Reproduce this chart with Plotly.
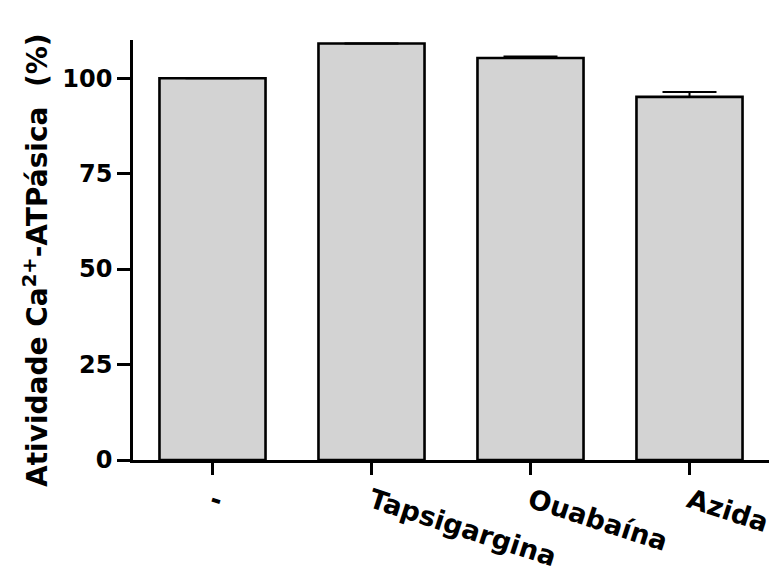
import plotly.graph_objects as go

# Ca2+-ATPase activity (% of control) under each inhibitor
categories = ["-", "Tapsigargina", "Ouabaína", "Azida"]
activity = [100.0, 109.1, 105.3, 95.1]
sem = [0.0, 0.0, 0.4, 1.3]
y_ticks = [0, 25, 50, 75, 100]

FONT = "DejaVu Sans, Verdana, sans-serif"

fig = go.Figure()
fig.add_trace(go.Bar(
    x=categories,
    y=activity,
    marker=dict(color="#d3d3d3", line=dict(color="black", width=2.6)),
    error_y=dict(type="data", array=sem, arrayminus=[0] * len(sem),
                 symmetric=False, color="black", thickness=2, width=27),
    showlegend=False,
))

fig.update_layout(
    width=771, height=573,
    margin=dict(l=133, r=2, t=40, b=113),
    plot_bgcolor="white", paper_bgcolor="white",
    bargap=0.333,
    font=dict(family=FONT, color="black"),
    xaxis=dict(
        type="category",
        range=[-0.5, 3.5],
        automargin=False,
        showline=True, linecolor="black", linewidth=2.6,
        ticks="outside", ticklen=12, tickwidth=2.6, tickcolor="black",
        tickangle=18,
        tickfont=dict(family=FONT, size=27, weight="bold", color="black"),
        showgrid=False, zeroline=False,
    ),
    yaxis=dict(
        range=[0, 110],
        tickvals=y_ticks,
        automargin=False,
        showline=True, linecolor="black", linewidth=2.6,
        ticks="outside", ticklen=13, tickwidth=2.6, tickcolor="black",
        tickfont=dict(family=FONT, size=24, weight="bold", color="black"),
        showgrid=False, zeroline=False,
    ),
    annotations=[dict(
        text="<b>Atividade Ca<sup>2+</sup>-ATPásica &nbsp;(%)</b>",
        xref="paper", yref="paper",
        x=-0.152, y=0.477,
        xanchor="center", yanchor="middle",
        textangle=-90, showarrow=False,
        font=dict(family=FONT, size=28, color="black"),
    )],
)

fig.write_html("out.html")
